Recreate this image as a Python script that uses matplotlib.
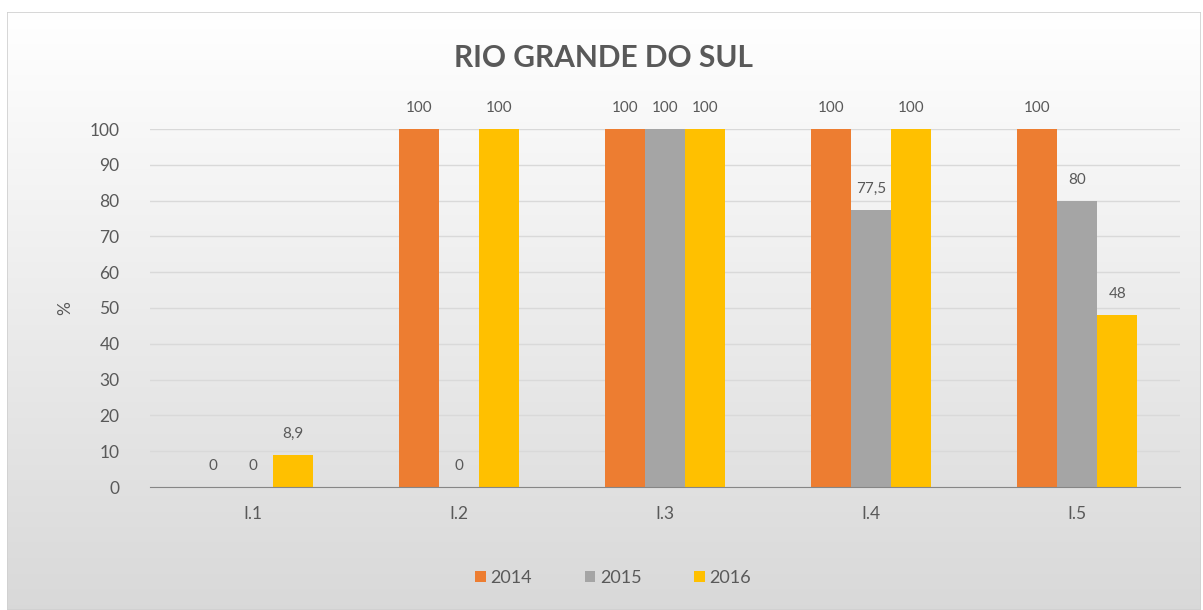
import matplotlib
matplotlib.use("Agg")
import matplotlib.pyplot as plt
import numpy as np
from matplotlib.patches import Rectangle

categories = ["I.1", "I.2", "I.3", "I.4", "I.5"]
series_names = ["2014", "2015", "2016"]
v2014 = [0, 100, 100, 100, 100]
v2015 = [0, 0, 100, 77.5, 80]
v2016 = [8.9, 100, 100, 100, 48]
yticks = [0, 10, 20, 30, 40, 50, 60, 70, 80, 90, 100]
colors = ["#ED7D31", "#A5A5A5", "#FFC000"]

plt.rcParams['font.family'] = ['Lato', 'DejaVu Sans']

W, H = 1203, 610
fig = plt.figure(figsize=(W / 100, H / 100), dpi=100)
fig.patch.set_facecolor("white")

# chart-area background with vertical gradient
bg = fig.add_axes([7 / W, 0, 1 - 9 / W, 1 - 12 / H], zorder=-10)
grad = np.linspace(1.0, 0.0, 256).reshape(-1, 1)
top = np.array([1.0, 1.0, 1.0])
bot = np.array([0.85, 0.85, 0.85])
img = (grad[..., None] * top + (1 - grad[..., None]) * bot)
bg.imshow(img, aspect="auto", extent=[0, 1, 0, 1], origin="upper")
bg.add_patch(Rectangle((0, 0), 1, 1, fill=False, edgecolor="#d0d0d0", lw=1.2, transform=bg.transAxes))
bg.set_axis_off()

ax = fig.add_axes([150 / W, 1 - 487 / H, (1180 - 150) / W, (487 - 129) / H])
ax.set_facecolor("none")
x = np.arange(len(categories))
width = 0.195
series = [v2014, v2015, v2016]

def fmt(v):
    s = ("%g" % v).replace(".", ",")
    return s

for i, (name, vals, c) in enumerate(zip(series_names, series, colors)):
    pos = x + (i - 1) * width
    ax.bar(pos, vals, width, color=c, label=name, zorder=3)
    for p, v in zip(pos, vals):
        ax.annotate(fmt(v), (p, v), xytext=(0, 15), textcoords="offset points",
                    ha="center", va="center", fontsize=11, color="#595959",
                    annotation_clip=False)

ax.set_xlim(-0.5, len(categories) - 0.5)
ax.set_ylim(0, 100)
ax.set_yticks(yticks)
ax.set_xticks(x)
ax.set_xticklabels(categories)
ax.tick_params(axis="both", length=0, labelsize=12.5, colors="#595959")
ax.tick_params(axis="x", pad=14)
ax.tick_params(axis="y", pad=22)
ax.grid(axis="y", color="#d9d9d9", lw=1, zorder=0)
for s in ["top", "right", "left"]:
    ax.spines[s].set_visible(False)
ax.spines["bottom"].set_color("#868686")
ax.spines["bottom"].set_zorder(4)
ax.set_ylabel("%", fontsize=12.5, color="#595959", labelpad=12)

fig.text(603 / W, 1 - 58 / H, "RIO GRANDE DO SUL", ha="center", va="center",
         fontsize=21.5, fontweight="bold", color="#595959")

leg = fig.legend(loc="center", bbox_to_anchor=(613 / W, 1 - 578 / H), ncol=3,
                 frameon=False, fontsize=13, handlelength=0.6, handleheight=0.6,
                 handletextpad=0.25, columnspacing=2.9)
for t in leg.get_texts():
    t.set_color("#595959")

fig.savefig("out.png", dpi=100)
